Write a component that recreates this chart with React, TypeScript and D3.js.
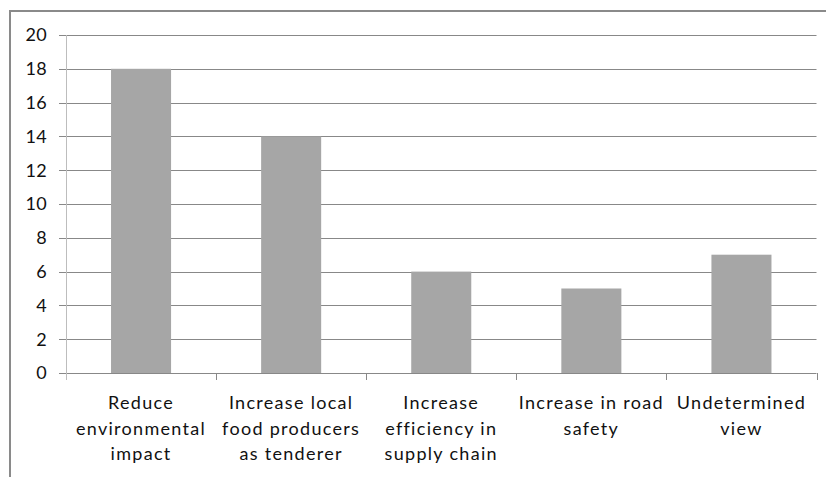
import React from "react";
import * as d3 from "d3";

const categories = [
  "Reduce environmental impact",
  "Increase local food producers as tenderer",
  "Increase efficiency in supply chain",
  "Increase in road safety",
  "Undetermined view",
];
const categoryLines = [
  ["Reduce", "environmental", "impact"],
  ["Increase local", "food producers", "as tenderer"],
  ["Increase", "efficiency in", "supply chain"],
  ["Increase in road", "safety"],
  ["Undetermined", "view"],
];
const values = [18, 14, 6, 5, 7];
const yTicks = [0, 2, 4, 6, 8, 10, 12, 14, 16, 18, 20];

const W = 826;
const H = 477;
const left = 66;
const right = 816.5;
const top = 35;
const bottom = 373;
const font = "Lato, 'Open Sans', sans-serif";

export default function App() {
  const x = d3.scaleBand<string>().domain(categories).range([left, right]).paddingInner(0.6).paddingOuter(0.3);
  const band = d3.scaleBand<string>().domain(categories).range([left, right]);
  const y = d3.scaleLinear().domain([0, 20]).range([bottom, top]);
  return (
    <svg width={W} height={H} style={{ position: "absolute", left: 0, top: 0 }}>
      <rect x={0} y={0} width={W} height={H} fill="#fff" />
      <path d={`M10,${H} L10,11 L${W},11`} fill="none" stroke="#8a8a8a" strokeWidth={2} />
      {yTicks.map((t) => (
        <g key={t}>
          <line x1={59} x2={right} y1={Math.round(y(t)) + 0.5} y2={Math.round(y(t)) + 0.5} stroke="#888" strokeWidth={1} />
          <text x={47} y={y(t)} dy="0.36em" textAnchor="end" fontFamily={font} fontSize={18} letterSpacing={0.3} fill="#111">
            {t}
          </text>
        </g>
      ))}
      <line x1={left + 0.5} x2={left + 0.5} y1={top} y2={bottom + 7} stroke="#bdbdbd" />
      {categories.map((c, i) => (
        <rect key={c} x={x(c)} y={y(values[i])} width={x.bandwidth()} height={bottom - y(values[i])} fill="#a6a6a6" />
      ))}
      {categories.map((c) => (
        <line key={"t" + c} x1={Math.round((band(c) as number) + band.bandwidth()) + 0.5} x2={Math.round((band(c) as number) + band.bandwidth()) + 0.5} y1={bottom} y2={bottom + 7} stroke="#888" />
      ))}
      {categories.map((c, i) => (
        <text key={"l" + c} textAnchor="middle" fontFamily={font} fontSize={18} letterSpacing={1.3} fill="#111">
          {categoryLines[i].map((ln, j) => (
            <tspan key={j} x={(band(c) as number) + band.bandwidth() / 2} y={409 + j * 25.5}>
              {ln}
            </tspan>
          ))}
        </text>
      ))}
    </svg>
  );
}
